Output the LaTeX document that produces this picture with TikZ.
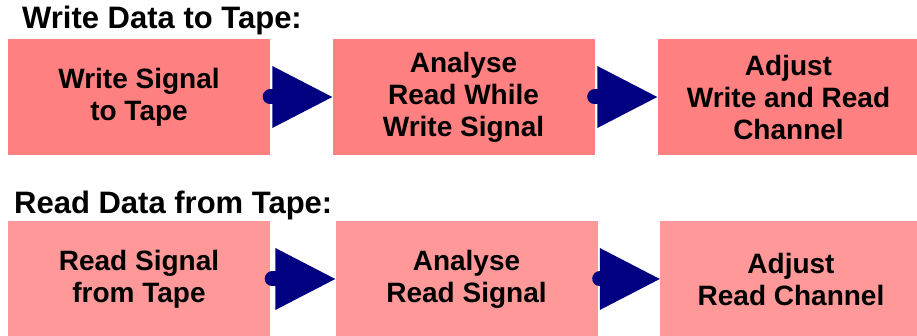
\documentclass[tikz,border=0pt]{standalone}
\usepackage{fontspec}
\setmainfont{Liberation Sans}
\usetikzlibrary{positioning,arrows.meta}

\definecolor{writefill}{RGB}{255,128,128}
\definecolor{readfill}{RGB}{255,153,153}
\definecolor{jointblue}{RGB}{0,0,128}

\begin{document}
\begin{tikzpicture}[x=1pt,y=-1pt,
		stage/.style={shape=rectangle,inner sep=0pt,minimum width=262pt,minimum height=116pt,
			align=center,font=\fontsize{28}{32}\selectfont\bfseries},
		heading/.style={anchor=base west,inner sep=0pt,font=\fontsize{31}{36}\selectfont\bfseries}]
		\useasboundingbox (0,0) rectangle (917,336);
		\clip (0,0) rectangle (917,336);

		% writing chain
		\node[heading] (wtitle) at (22,29) {Write Data to Tape:};
		\node[stage,fill=writefill] (w1) at (139,97) {Write Signal\\to Tape};
		\node[stage,fill=writefill] (w2) at (463.5,97) {Analyse\\Read While\\Write Signal};
		\node[stage,fill=writefill] (w3) at (788.5,97) {Adjust\\Write and Read\\Channel};

		% reading chain
		\node[heading] (rtitle) at (14,214) {Read Data from Tape:};
		\node[stage,fill=readfill] (r1) at (139,279) {Read Signal\\from Tape};
		\node[stage,fill=readfill] (r2) at (466.5,279) {Analyse\\Read Signal};
		\node[stage,fill=readfill] (r3) at (791,279) {Adjust\\Read Channel};

		\begin{scope}[>={Triangle[length=60pt,width=62pt,line width=0pt]},
			every edge/.style={draw=jointblue,line width=15pt,line cap=round}]

			\path [->] (w1.east) edge (w2.west);
			\path [->] (w2.east) edge (w3.west);
			\path [->] ([xshift=2pt]r1.east) edge (r2.west);
			\path [->] ([xshift=2pt]r2.east) edge (r3.west);

		\end{scope}

	\end{tikzpicture}
\end{document}
